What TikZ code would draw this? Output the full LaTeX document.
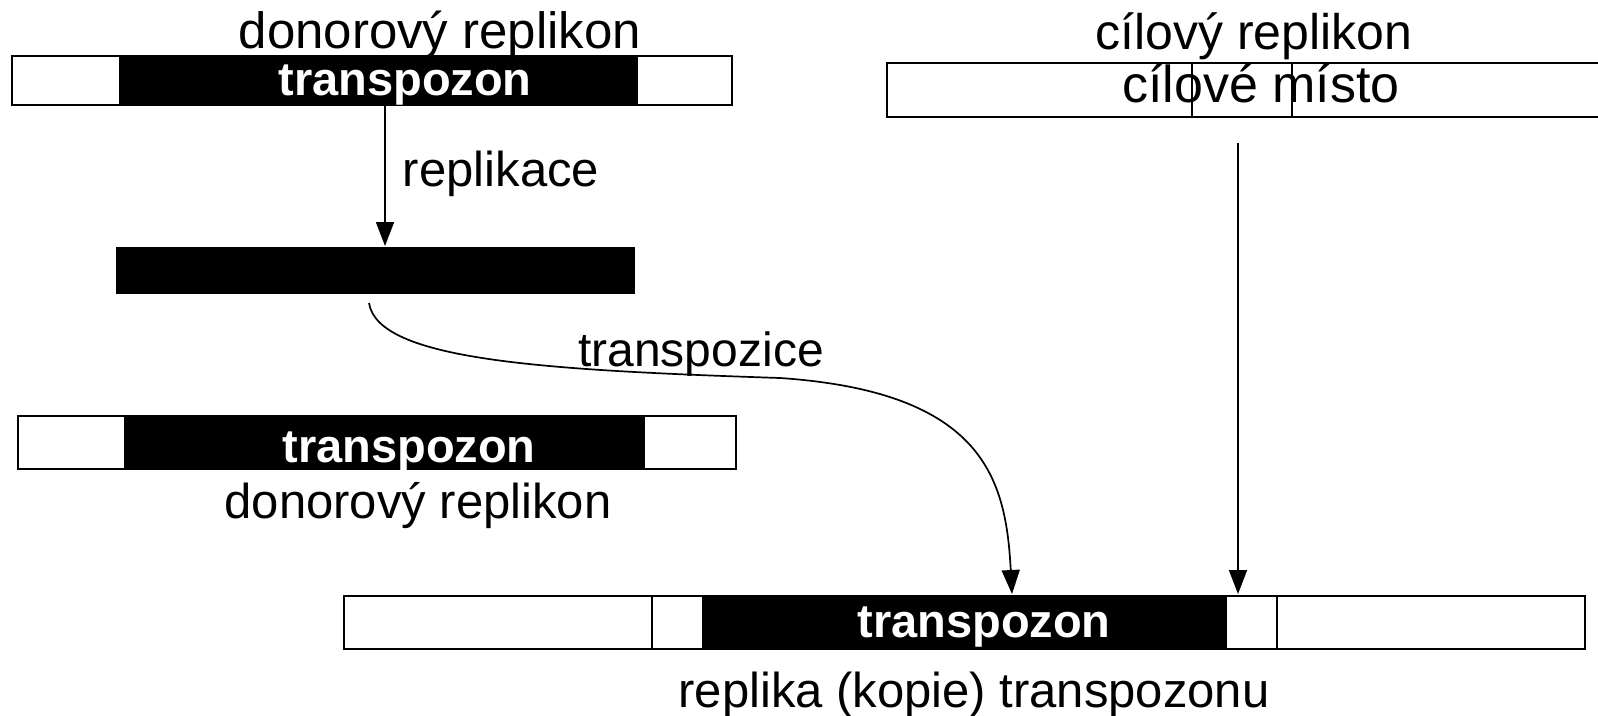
\documentclass[tikz,border=0pt]{standalone}
\usepackage{fontspec}
\setmainfont{Liberation Sans}
\usetikzlibrary{arrows.meta}
\newcommand{\fsz}[1]{\fontsize{#1}{#1}\selectfont}
\begin{document}
\begin{tikzpicture}[x=1pt,y=-1pt,
  seg/.style={draw, line width=2pt, inner sep=0pt, outer sep=0pt, minimum height=#1},
  wseg/.style={seg=#1, fill=white},
  bseg/.style={seg=#1, fill=black},
  lab/.style={font=\fsz{49}, inner sep=0pt, anchor=base},
  tlab/.style={font=\bfseries\fsz{47}, text=white, inner sep=0pt, anchor=base},
  arr/.style={line width=1.7pt, -{Triangle[length=24pt,width=18pt]}}]
\useasboundingbox (0,0) rectangle (1598,715);
% donor replicon (top)
\node[wseg=49pt, minimum width=720pt] (b1) at (372,80.5) {};
\node[bseg=49pt, minimum width=517pt] (b1t) at (378.5,80.5) {};
\node[tlab] (t1) at (405,95) {transpozon};
\node[lab, font=\fsz{51}] (l1) at (440,48) {donorový replikon};
% replicated transposon
\node[bseg=45pt, minimum width=517pt] (b2) at (375.5,270.5) {};
% donor replicon (after)
\node[wseg=53pt, minimum width=718pt] (b3) at (377,442.5) {};
\node[bseg=53pt, minimum width=519pt] (b3t) at (384.5,442.5) {};
\node[tlab] (t3) at (409,462) {transpozon};
\node[lab] (l3) at (418,518) {donorový replikon};
% target replicon
\node[wseg=54pt, minimum width=718pt] (tg) at (1246,90) {};
\node[wseg=54pt, minimum width=100pt] (tgm) at (1242,90) {};
\node[lab, font=\fsz{52}] (l4) at (1261,102) {cílové místo};
\node[lab, font=\fsz{50}] (l5) at (1254,49) {cílový replikon};
% result
\node[wseg=53pt, minimum width=308pt] (r1) at (498,622.5) {};
\node[wseg=53pt, minimum width=51pt] (r2) at (677.5,622.5) {};
\node[bseg=53pt, minimum width=523pt] (r3) at (964.5,622.5) {};
\node[wseg=53pt, minimum width=51pt] (r4) at (1251.5,622.5) {};
\node[wseg=53pt, minimum width=308pt] (r5) at (1431,622.5) {};
\node[tlab] (t5) at (984,637) {transpozon};
\node[lab] (l6) at (974,707) {replika (kopie) transpozonu};
% connectors
\coordinate (a1s) at (385,105);
\coordinate (a1e) at (385,246);
\draw[arr] (a1s) -- (a1e);
\node[lab] (l2) at (501,186) {replikace};
\coordinate (a2s) at (1238,143);
\coordinate (a2e) at (1238,594);
\draw[arr] (a2s) -- (a2e);
\coordinate (cs) at (369,303);
\coordinate (cm) at (780,378);
\coordinate (ce) at (1012,594);
\draw[arr] (cs) .. controls (378,360) and (540,370) .. (cm)
  .. controls (985,392) and (1006,480) .. (ce);
\node[lab, font=\fsz{48}] (l7) at (701,366) {transpozice};
\end{tikzpicture}
\end{document}
